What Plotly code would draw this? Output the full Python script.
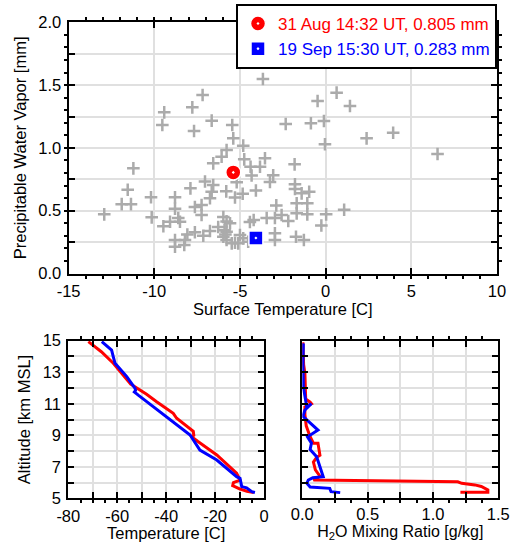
import plotly.graph_objects as go

# ---------------- data ----------------
surf_temp = [-3.66, -7.18, -9.42, -7.78, -9.53, -6.65, -7.68, -5.45, -5.39, -4.81,
             -5.78, -6.07, -6.56, -4.75, -4.38, -3.54, -3.83, -11.22, 0.64, -0.47,
             1.42, -2.33, -0.86, -0.10, -0.04, 2.39, 3.94, 6.53, -1.81, -4.32,
             -3.06, -7.04, -6.56, -7.89, -6.65, -5.19, -3.25, -5.80, -4.84, -4.07,
             -11.55, -6.75, -5.29, -8.79, -10.19, -11.90, -11.36, -7.63, -7.24, -8.79,
             -12.92, -10.15, -7.24, -8.60, -8.50, -9.08, -9.47, -5.97, -5.58, -5.78,
             -4.42, -3.44, -2.96, -2.88, -2.57, -2.18, -1.79, -1.79, -1.40, -0.96,
             -1.69, -1.07, -1.69, -1.07, 0.03, 1.08, -0.25, -6.27, -6.75, -7.63,
             -7.14, -8.07, -8.21, -8.79, -8.79, -8.25, -5.97, -5.78, -5.48, -5.10,
             -5.00, -4.81, -4.52, -5.78, -2.96, -2.96, -1.73, -1.27, -5.29, -4.20,
             -5.90, -5.85]
pwv = [1.549, 1.421, 1.283, 1.323, 1.182, 1.217, 1.135, 1.182, 1.076, 1.018,
       0.983, 0.930, 0.877, 0.909, 0.850, 0.917, 0.850, 0.837, 1.440, 1.373,
       1.334, 1.190, 1.196, 1.214, 1.029, 1.076, 1.121, 0.951, 0.869, 0.780,
       0.782, 0.733, 0.705, 0.678, 0.651, 0.726, 0.728, 0.654, 0.635, 0.661,
       0.667, 0.599, 0.605, 0.607, 0.607, 0.552, 0.552, 0.530, 0.545, 0.515,
       0.471, 0.447, 0.466, 0.442, 0.412, 0.412, 0.376, 0.450, 0.400, 0.415,
       0.410, 0.442, 0.442, 0.542, 0.466, 0.418, 0.710, 0.673, 0.638, 0.651,
       0.559, 0.559, 0.479, 0.471, 0.471, 0.508, 0.382, 0.370, 0.338, 0.328,
       0.300, 0.310, 0.267, 0.267, 0.213, 0.227, 0.293, 0.267, 0.240, 0.240,
       0.307, 0.280, 0.253, 0.333, 0.320, 0.267, 0.293, 0.267, 0.245, 0.426,
       0.345, 0.310]

case1_label = "31 Aug 14:32 UT, 0.805 mm"
case1_temp = -5.39
case1_pwv = 0.805
case2_label = "19 Sep 15:30 UT, 0.283 mm"
case2_temp = -4.07
case2_pwv = 0.283

# temperature profiles
aug_T = [-71.8, -66.5, -61.6, -58.0, -54.5, -52.0, -48.0, -43.9, -37.1, -35.7,
         -30.5, -28.9, -28.7, -29.5, -27.0, -19.3, -11.2, -9.8, -12.5, -12.8,
         -10.0, -7.0, -4.2]
aug_T_alt = [14.94, 14.30, 13.57, 12.90, 12.25, 12.00, 11.60, 11.13, 10.39, 10.08,
             9.40, 9.25, 9.00, 8.90, 8.60, 7.75, 6.59, 6.15, 6.00, 5.80,
             5.60, 5.45, 5.36]
sep_T = [-66.3, -62.3, -61.6, -60.9, -56.1, -54.1, -52.7, -52.5, -53.0, -51.4,
         -38.4, -35.7, -30.2, -26.2, -19.3, -11.2, -9.8, -9.1, -7.1, -5.0, -3.7]
sep_T_alt = [14.94, 14.40, 13.98, 13.57, 12.72, 12.30, 11.98, 11.85, 11.75, 11.55,
             9.97, 9.65, 9.02, 8.06, 7.43, 6.37, 6.27, 5.74, 5.66, 5.42, 5.37]

# mixing ratio profiles
aug_q = [0.005, 0.01, 0.02, 0.026, 0.026, 0.06, 0.07, 0.02, 0.02, 0.03,
         0.06, 0.085, 0.12, 0.135, 0.11, 0.085, 0.10, 0.135, 0.085, 1.19,
         1.22, 1.32, 1.37, 1.42, 1.42, 1.21]
aug_q_alt = [14.9, 13.5, 12.93, 12.0, 11.3, 11.1, 11.0, 10.8, 10.3, 9.6,
             8.91, 8.5, 8.5, 7.73, 7.6, 7.3, 6.8, 6.4, 6.16, 6.05,
             5.95, 5.85, 5.75, 5.53, 5.38, 5.38]
sep_q = [0.008, 0.005, 0.008, 0.02, 0.034, 0.07, 0.02, 0.005, 0.12, 0.04,
         0.07, 0.06, 0.11, 0.135, 0.16, 0.08, 0.046, 0.035, 0.06, 0.21,
         0.22, 0.29]
sep_q_alt = [14.83, 13.5, 12.08, 11.45, 10.8, 11.0, 10.6, 10.2, 9.33, 8.9,
             8.5, 8.1, 7.64, 7.0, 6.37, 6.3, 6.16, 5.95, 5.72, 5.63,
             5.42, 5.36]

# tick labels
top_x_vals = [-15, -10, -5, 0, 5, 10]
top_x_text = ["-15", "-10", "-5", "0", "5", "10"]
top_y_vals = [0, 0.25, 0.5, 0.75, 1.0, 1.25, 1.5, 1.75, 2.0]
top_y_text = ["0.0", " ", "0.5", " ", "1.0", " ", "1.5", " ", "2.0"]
tmp_x_vals = [-80, -70, -60, -50, -40, -30, -20, -10, 0]
tmp_x_text = ["-80", " ", "-60", " ", "-40", " ", "-20", " ", "0"]
alt_vals = [5, 6, 7, 8, 9, 10, 11, 12, 13, 14, 15]
alt_text = ["5", " ", "7", " ", "9", " ", "11", " ", "13", " ", "15"]
q_x_vals = [0, 0.25, 0.5, 0.75, 1.0, 1.25, 1.5]
q_x_text = ["0.0", " ", "0.5", " ", "1.0", " ", "1.5"]

RED = "#ff0000"
BLUE = "#0000ff"
FONT = "Liberation Sans, Arial, Helvetica, sans-serif"
FS = 16.5

fig = go.Figure()

fig.add_trace(go.Scatter(
    x=surf_temp, y=pwv, mode="markers", showlegend=False,
    marker=dict(symbol="cross-thin", size=9, line=dict(width=2.5, color="#ababab")),
    xaxis="x", yaxis="y"))
fig.add_trace(go.Scatter(
    x=[case1_temp], y=[case1_pwv], mode="markers",
    name='<span style="color:#ff0000">' + case1_label + "</span>",
    marker=dict(symbol="circle-dot", size=15, color=RED, line=dict(width=1.5, color="white")),
    xaxis="x", yaxis="y"))
fig.add_trace(go.Scatter(
    x=[case2_temp], y=[case2_pwv], mode="markers",
    name='<span style="color:#0000ff">' + case2_label + "</span>",
    marker=dict(symbol="square-dot", size=14, color=BLUE, line=dict(width=1.5, color="white")),
    xaxis="x", yaxis="y"))

fig.add_trace(go.Scatter(x=aug_T, y=aug_T_alt, mode="lines", showlegend=False,
                         line=dict(color=RED, width=3), xaxis="x2", yaxis="y2"))
fig.add_trace(go.Scatter(x=sep_T, y=sep_T_alt, mode="lines", showlegend=False,
                         line=dict(color=BLUE, width=3), xaxis="x2", yaxis="y2"))
fig.add_trace(go.Scatter(x=aug_q, y=aug_q_alt, mode="lines", showlegend=False,
                         line=dict(color=RED, width=3), xaxis="x3", yaxis="y3"))
fig.add_trace(go.Scatter(x=sep_q, y=sep_q_alt, mode="lines", showlegend=False,
                         line=dict(color=BLUE, width=3), xaxis="x3", yaxis="y3"))


def axis(**kw):
    base = dict(showline=True, linecolor="black", linewidth=2, mirror="ticks",
                ticks="inside", ticklen=6, tickwidth=1.5, tickcolor="black",
                showgrid=True, gridcolor="#e0e0e0", gridwidth=1.5, zeroline=False,
                tickfont=dict(size=FS, color="black", family=FONT),
                automargin=False, tickmode="array")
    base.update(kw)
    return base


W, H = 511, 542
fig.update_layout(
    width=W, height=H,
    margin=dict(l=0, r=0, t=0, b=0),
    paper_bgcolor="white", plot_bgcolor="white",
    font=dict(family=FONT, size=FS, color="black"),
    xaxis=axis(domain=[68.6 / W, 497 / W], range=[-15, 10], anchor="y",
               tickvals=top_x_vals, ticktext=top_x_text, ticklabelstandoff=2,
               minor=dict(tickmode="linear", tick0=-15, dtick=1, ticklen=3, showgrid=False),
               title=dict(text="Surface Temperature [C]", standoff=0, font=dict(size=FS))),
    yaxis=axis(domain=[1 - 273.5 / H, 1 - 22.3 / H], range=[0, 2], anchor="x",
               tickvals=top_y_vals, ticktext=top_y_text, ticklabelstandoff=2,
               minor=dict(tickmode="linear", tick0=0, dtick=0.1, ticklen=3, showgrid=False),
               title=dict(text="Precipitable Water Vapor [mm]", standoff=8, font=dict(size=FS))),
    xaxis2=axis(domain=[68.3 / W, 264 / W], range=[-80, 0], anchor="y2",
                tickvals=tmp_x_vals, ticktext=tmp_x_text, ticklabelstandoff=2,
                minor=dict(tickmode="linear", tick0=-80, dtick=5, ticklen=3, showgrid=False),
                title=dict(text="Temperature [C]", standoff=1, font=dict(size=FS))),
    yaxis2=axis(domain=[1 - 498.3 / H, 1 - 340.7 / H], range=[5, 15], anchor="x2",
                tickvals=alt_vals, ticktext=alt_text, ticklabelstandoff=2,
                title=dict(text="Altitude [km MSL]", standoff=8, font=dict(size=FS))),
    xaxis3=axis(domain=[302.3 / W, 498.3 / W], range=[0, 1.5], anchor="y3",
                tickvals=q_x_vals, ticktext=q_x_text, ticklabelstandoff=0,
                minor=dict(tickmode="linear", tick0=0, dtick=0.125, ticklen=3, showgrid=False),
                title=dict(text="H<sub>2</sub>O Mixing Ratio [g/kg]", standoff=6, font=dict(size=16))),
    yaxis3=axis(domain=[1 - 498.3 / H, 1 - 340.7 / H], range=[5, 15], anchor="x3",
                tickvals=alt_vals, showticklabels=False),
    legend=dict(x=236 / W, y=1 - 4 / H, xanchor="left", yanchor="top",
                bgcolor="white", bordercolor="black", borderwidth=2,
                font=dict(size=17, family=FONT), tracegroupgap=0,
                itemwidth=30),
)

fig.write_html("out.html")
